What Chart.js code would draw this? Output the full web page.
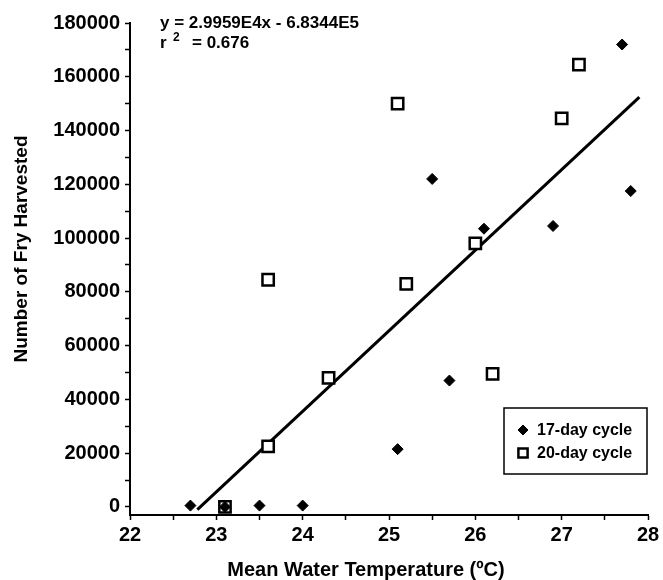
<!DOCTYPE html>
<html>
<head>
<meta charset="utf-8">
<script src="https://cdn.jsdelivr.net/npm/chart.js@4"></script>
<style>
  html, body { margin: 0; padding: 0; background: #fff; }
  #wrap { width: 663px; height: 580px; }
</style>
</head>
<body>
<div id="wrap"><canvas id="fry-chart" width="663" height="580"></canvas></div>
<script>
// 17-day cycle runs
var temp17 = [22.7, 23.1, 23.5, 24.0, 25.1, 25.5, 25.7, 26.1, 26.9, 27.7, 27.8];
var fry17  = [500, 0, 500, 500, 21500, 122000, 47000, 103500, 104500, 172000, 117500];

// 20-day cycle runs
var temp20 = [23.1, 23.6, 23.6, 24.3, 25.1, 25.2, 26.0, 26.2, 27.0, 27.2];
var fry20  = [0, 22500, 84500, 48000, 150000, 83000, 98000, 49500, 144500, 164500];

// linear fit over both cycles
var fitSlope = 2.9959e4;
var fitIntercept = -6.8344e5;
var fitRange = [22.78, 27.9];
var fitR2 = 0.676;

var xTicks = [22, 23, 24, 25, 26, 27, 28];
var yTicks = [0, 20000, 40000, 60000, 80000, 100000, 120000, 140000, 160000, 180000];

var xTitle = 'Mean Water Temperature (ºC)';
var yTitle = 'Number of Fry Harvested';

var FONT = "'Liberation Sans', Arial, Helvetica, sans-serif";

function pairs(xs, ys) {
    return xs.map(function (x, i) { return { x: x, y: ys[i] }; });
}

function sci(v) {
    return v.toExponential(4).replace('e+', 'E');
}

// labelled ticks plus an unlabelled one halfway between each pair
function withMinor(major) {
    var out = [];
    major.forEach(function (v, i) {
        out.push({ value: v });
        if (i < major.length - 1) out.push({ value: (v + major[i + 1]) / 2 });
    });
    return out;
}

var fitLine = fitRange.map(function (x) {
    return { x: x, y: fitSlope * x + fitIntercept };
});

// axis titles, equation text and boxed legend drawn over the plot
var overlay = {
    id: 'overlay',
    afterDraw: function (chart) {
        var ctx = chart.ctx;
        ctx.save();
        ctx.fillStyle = '#000';
        ctx.textAlign = 'center';
        ctx.textBaseline = 'middle';

        ctx.font = 'bold 20px ' + FONT;
        ctx.fillText(xTitle, 366, 570);

        ctx.save();
        ctx.translate(22, 249);
        ctx.rotate(-Math.PI / 2);
        ctx.font = 'bold 19px ' + FONT;
        ctx.fillText(yTitle, 0, 0);
        ctx.restore();

        ctx.textBaseline = 'alphabetic';
        ctx.textAlign = 'left';
        ctx.font = 'bold 17px ' + FONT;
        ctx.fillText('y = ' + sci(fitSlope) + 'x - ' + sci(-fitIntercept), 160, 28);
        ctx.fillText('r', 160, 48);
        ctx.font = 'bold 12px ' + FONT;
        ctx.fillText('2', 173, 41);
        ctx.font = 'bold 17px ' + FONT;
        ctx.fillText('= ' + fitR2, 192, 48);

        // legend box
        var bx = 504, by = 408, bw = 143, bh = 66;
        ctx.lineWidth = 1.5;
        ctx.strokeStyle = '#000';
        ctx.strokeRect(bx, by, bw, bh);
        ctx.font = 'bold 16px ' + FONT;
        ctx.textBaseline = 'middle';
        [0, 1].forEach(function (i) {
            var ds = chart.data.datasets[i];
            var y = by + 22 + i * 23;
            ctx.fillStyle = ds.pointBackgroundColor;
            ctx.strokeStyle = ds.pointBorderColor;
            ctx.lineWidth = ds.pointBorderWidth;
            Chart.helpers.drawPoint(ctx, {
                pointStyle: ds.pointStyle,
                radius: i === 0 ? 5 : 6.5,
                rotation: 0,
                borderWidth: ds.pointBorderWidth
            }, bx + 19, y);
            ctx.fillStyle = '#000';
            ctx.fillText(ds.label, bx + 33, y + 1);
        });
        ctx.restore();
    }
};

new Chart(document.getElementById('fry-chart'), {
    type: 'scatter',
    data: {
        datasets: [{
            label: '17-day cycle',
            data: pairs(temp17, fry17),
            pointStyle: 'rectRot',
            pointRadius: 5.5,
            pointBackgroundColor: '#000',
            pointBorderColor: '#000',
            pointBorderWidth: 1,
            order: 1
        }, {
            label: '20-day cycle',
            data: pairs(temp20, fry20),
            pointStyle: 'rect',
            pointRadius: 8,
            pointBackgroundColor: '#fff',
            pointBorderColor: '#000',
            pointBorderWidth: 2.5,
            order: 2
        }, {
            type: 'line',
            label: 'fit',
            data: fitLine,
            borderColor: '#000',
            borderWidth: 3,
            pointRadius: 0,
            fill: false,
            order: 3
        }]
    },
    options: {
        responsive: false,
        animation: false,
        layout: { padding: { left: 0, right: 15, top: 23, bottom: 0 } },
        plugins: {
            legend: { display: false },
            tooltip: { enabled: false }
        },
        scales: {
            x: {
                type: 'linear',
                min: 22,
                max: 28,
                afterFit: function (s) { s.height = 65; },
                afterBuildTicks: function (s) { s.ticks = withMinor(xTicks); },
                border: { color: '#000', width: 2 },
                grid: { drawOnChartArea: false, color: '#000', tickLength: 5, tickWidth: 1.5 },
                ticks: {
                    autoSkip: false,
                    color: '#000',
                    padding: 3,
                    maxRotation: 0,
                    font: { family: FONT, size: 20, weight: 'bold' },
                    callback: function (v) { return xTicks.indexOf(v) >= 0 ? String(v) : ''; }
                }
            },
            y: {
                min: -3000,
                max: 180000,
                afterFit: function (s) { s.width = 130; },
                afterBuildTicks: function (s) { s.ticks = withMinor(yTicks); },
                border: { color: '#000', width: 2 },
                grid: { drawOnChartArea: false, color: '#000', tickLength: 5, tickWidth: 1.5 },
                ticks: {
                    autoSkip: false,
                    color: '#000',
                    padding: 5,
                    font: { family: FONT, size: 20, weight: 'bold' },
                    callback: function (v) { return yTicks.indexOf(v) >= 0 ? String(v) : ''; }
                }
            }
        }
    },
    plugins: [overlay]
});
</script>
</body>
</html>
